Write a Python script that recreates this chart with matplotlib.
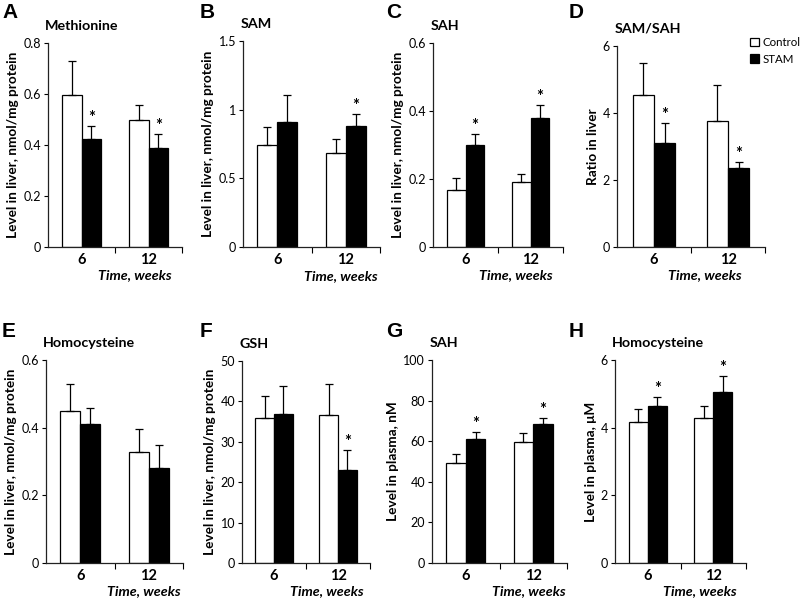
import matplotlib.pyplot as plt
import numpy as np
from matplotlib.patches import Patch
from matplotlib.ticker import FuncFormatter

weeks = ['6', '12']
groups = ['Control', 'STAM']

panels = ['A', 'B', 'C', 'D', 'E', 'F', 'G', 'H']
titles = ['Methionine', 'SAM', 'SAH', 'SAM/SAH', 'Homocysteine', 'GSH', 'SAH', 'Homocysteine']
ylabels = ['Level in liver, nmol/mg protein', 'Level in liver, nmol/mg protein',
           'Level in liver, nmol/mg protein', 'Ratio in liver',
           'Level in liver, nmol/mg protein', 'Level in liver, nmol/mg protein',
           'Level in plasma, nM', 'Level in plasma, \u03bcM']

# means, [6 wk, 12 wk]
control_mean = [[0.595, 0.499], [0.740, 0.688], [0.168, 0.190], [4.55, 3.77],
                [0.448, 0.327], [36.0, 36.6], [49.3, 59.5], [4.16, 4.29]]
stam_mean = [[0.423, 0.388], [0.913, 0.884], [0.299, 0.379], [3.10, 2.36],
             [0.411, 0.282], [36.8, 23.0], [60.9, 68.6], [4.65, 5.05]]
# SD (upper error only)
control_err = [[0.135, 0.059], [0.137, 0.102], [0.035, 0.025], [0.95, 1.08],
               [0.081, 0.069], [5.3, 7.7], [4.3, 4.5], [0.39, 0.35]]
stam_err = [[0.053, 0.055], [0.196, 0.087], [0.033, 0.040], [0.59, 0.19],
            [0.048, 0.067], [7.1, 5.0], [3.4, 2.8], [0.27, 0.49]]
# significance marks on STAM bars
stam_sig = [[True, True], [False, True], [True, True], [True, True],
            [False, False], [False, True], [True, True], [True, True]]

yticks = [[0, 0.2, 0.4, 0.6, 0.8], [0, 0.5, 1, 1.5], [0, 0.2, 0.4, 0.6], [0, 2, 4, 6],
          [0, 0.2, 0.4, 0.6], [0, 10, 20, 30, 40, 50], [0, 20, 40, 60, 80, 100], [0, 2, 4, 6]]

# axes boxes in pixels: left, right, top, bottom
boxes = [(48, 182, 43, 247), (243, 380, 41, 247), (433, 563, 43, 247), (617, 765, 46, 247),
         (46, 183, 360, 563), (242, 370, 361, 563), (432, 567, 360, 563), (615, 746, 360, 563)]
time_x = [0.925, 0.98, 0.92, 0.845, 0.985, 0.95, 0.99, 0.93]
letter_pos = [(2, 3), (200, 3), (386, 3), (569, 3), (2, 322), (200, 322), (386, 322), (569, 322)]

plt.rcParams['font.family'] = ['Lato', 'DejaVu Sans']

W, H = 800, 599
fig = plt.figure(figsize=(8, 5.99), dpi=100)

x = np.arange(len(weeks))
bw = 0.29

for i in range(len(panels)):
    l, r, t, b = boxes[i]
    ax = fig.add_axes([l / W, 1 - b / H, (r - l) / W, (b - t) / H])

    c_err = [[0, 0], control_err[i]]
    s_err = [[0, 0], stam_err[i]]
    ax.bar(x - bw / 2, control_mean[i], bw, color='white', edgecolor='black', linewidth=0.9,
           yerr=c_err, error_kw=dict(ecolor='black', elinewidth=0.9, capsize=3, capthick=0.9))
    ax.bar(x + bw / 2, stam_mean[i], bw, color='black', edgecolor='black', linewidth=0.9,
           yerr=s_err, error_kw=dict(ecolor='black', elinewidth=0.9, capsize=3, capthick=0.9))

    for j in range(len(weeks)):
        if stam_sig[i][j]:
            ax.annotate('*', (x[j] + bw / 2, stam_mean[i][j] + stam_err[i][j]),
                        xytext=(0, 0), textcoords='offset points', ha='center', va='bottom',
                        fontsize=12, fontweight='bold')

    ax.set_xlim(-0.5, 1.5)
    ax.set_ylim(0, yticks[i][-1])
    ax.set_yticks(yticks[i])
    ax.yaxis.set_major_formatter(FuncFormatter(lambda v, p: '{:g}'.format(v)))
    ax.set_xticks([0.5, 1.5])
    ax.set_xticklabels([])
    ax.set_xticks(x, minor=True)
    ax.set_xticklabels(weeks, minor=True, fontsize=10.5, fontweight='bold')
    ax.tick_params(axis='x', which='minor', length=0, pad=4)
    ax.tick_params(axis='x', which='major', length=4, width=0.8, direction='out')
    ax.tick_params(axis='y', length=3, width=0.8, labelsize=9, pad=2)
    for s in ['top', 'right']:
        ax.spines[s].set_visible(False)
    for s in ['left', 'bottom']:
        ax.spines[s].set_linewidth(0.9)
        ax.spines[s].set_color('#222222')

    ax.set_ylabel(ylabels[i], fontsize=9.8, fontweight='bold', labelpad=3)
    ax.annotate(titles[i], (0, 1), xycoords='axes fraction', xytext=(-2, 8),
                textcoords='offset points', ha='left', va='bottom', fontsize=10.3, fontweight='bold')
    ax.text(time_x[i], -0.11, 'Time, weeks', transform=ax.transAxes, ha='right', va='top',
            fontsize=10.3, fontweight='bold', fontstyle='italic')

    lx, ly = letter_pos[i]
    fig.text(lx / W, 1 - ly / H, panels[i], ha='left', va='top', fontsize=15,
             fontweight='bold', family='Liberation Sans')

handles = [Patch(facecolor='white', edgecolor='black', linewidth=0.9),
           Patch(facecolor='black', edgecolor='black', linewidth=0.9)]
fig.legend(handles, groups, loc='upper left', bbox_to_anchor=(750 / W, 1 - 37 / H),
           frameon=False, fontsize=8.3, handlelength=0.8, handleheight=0.8,
           handletextpad=0.3, borderpad=0, borderaxespad=0, labelspacing=0.5)

fig.savefig('out.png', dpi=100)
